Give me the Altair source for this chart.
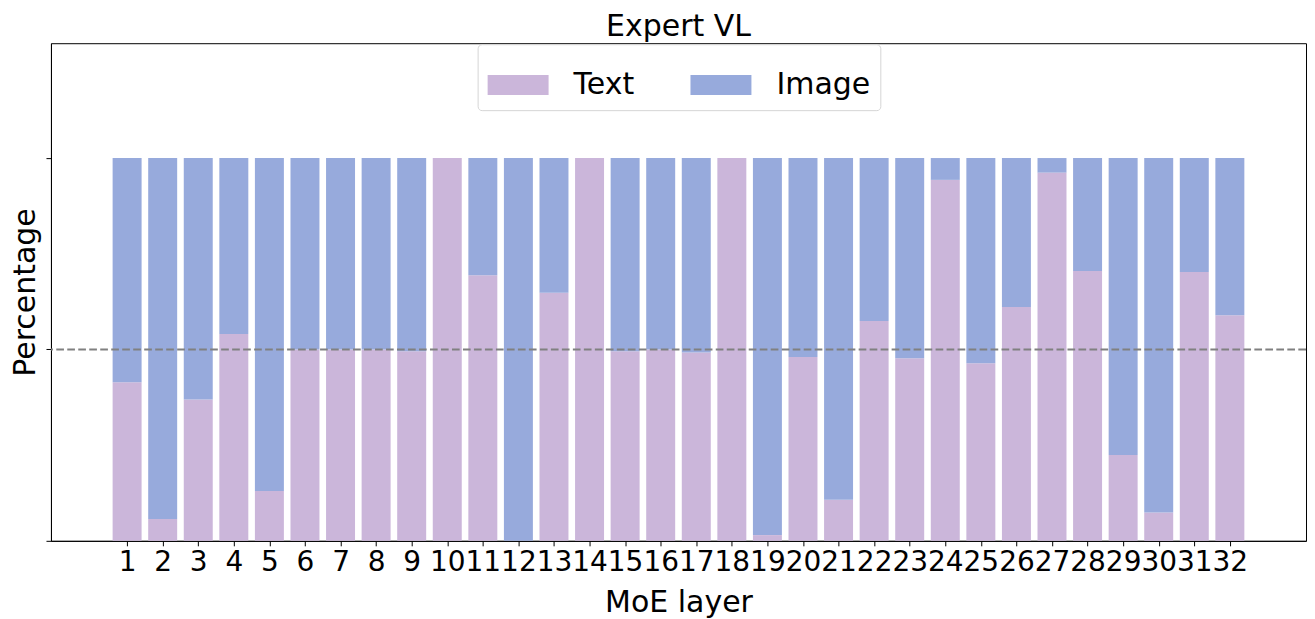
import altair as alt
import pandas as pd

layers = list(range(1, 33))
text_share = [0.414, 0.057, 0.369, 0.540, 0.130, 0.500, 0.500, 0.500, 0.495, 1.000,
              0.694, 0.000, 0.648, 1.000, 0.495, 0.500, 0.492, 1.000, 0.015, 0.480,
              0.107, 0.574, 0.477, 0.943, 0.464, 0.611, 0.962, 0.705, 0.224, 0.074,
              0.702, 0.589]
image_share = [0.586, 0.943, 0.631, 0.460, 0.870, 0.500, 0.500, 0.500, 0.505, 0.000,
               0.306, 1.000, 0.352, 0.000, 0.505, 0.500, 0.508, 0.000, 0.985, 0.520,
               0.893, 0.426, 0.523, 0.057, 0.536, 0.389, 0.038, 0.295, 0.776, 0.926,
               0.298, 0.411]
modalities = ["Text", "Image"]
colors = ["#cbb6da", "#97aadc"]
y_ticks = [0, 0.5, 1.0]
ref_level = [0.5]

rows = []
for i, layer in enumerate(layers):
    rows.append({"layer": layer, "modality": "Text", "share": text_share[i], "ord": 0})
    rows.append({"layer": layer, "modality": "Image", "share": image_share[i], "ord": 1})
df = pd.DataFrame(rows)

FONT = "DejaVu Sans"

bars = alt.Chart(df).mark_bar(size=29).encode(
    x=alt.X("layer:Q",
            scale=alt.Scale(domain=[-1, 34], nice=False, zero=False),
            axis=alt.Axis(values=layers, format="d", title="MoE layer", grid=False,
                          labelPadding=3, titlePadding=11, tickSize=5, labelFlush=False,
                          labelOverlap=False)),
    y=alt.Y("share:Q", stack="zero",
            scale=alt.Scale(domain=[0, 1.3], nice=False),
            axis=alt.Axis(values=y_ticks, labels=False, title="Percentage", grid=False,
                          tickSize=5, titlePadding=5)),
    color=alt.Color("modality:N",
                    scale=alt.Scale(domain=modalities, range=colors),
                    legend=alt.Legend(title=None, orient="none", legendX=427, legendY=1,
                                      direction="horizontal",
                                      symbolType="M-1,-0.328L1,-0.328L1,0.328L-1,0.328Z",
                                      symbolSize=3721, symbolStrokeWidth=0, symbolOpacity=1,
                                      labelFontSize=30, labelFont=FONT, labelColor="black",
                                      labelOffset=25, columnPadding=56, padding=10,
                                      strokeColor="#d5d5d5", cornerRadius=4,
                                      fillColor="white")),
    order=alt.Order("ord:Q", sort="ascending"),
)

rule = alt.Chart(pd.DataFrame({"ref": ref_level})).mark_rule(
    color="#808080", strokeDash=[7.7, 3.3], strokeWidth=2
).encode(y=alt.Y("ref:Q", title="Percentage"))

chart = alt.layer(bars, rule).properties(
    width=1256, height=498,
    title=alt.Title("Expert VL", fontSize=30, fontWeight="normal", font=FONT,
                    color="black", offset=1, anchor="middle"),
    padding={"left": 2, "top": 4, "right": 0, "bottom": 0},
).configure_axis(
    labelFont=FONT, titleFont=FONT, labelFontSize=28, titleFontSize=30,
    titleFontWeight="normal", labelColor="black", titleColor="black",
    domainColor="black", tickColor="black", domainWidth=1, tickWidth=1,
).configure_view(stroke="black", strokeWidth=1)

chart.save("out.html", embed_options={"renderer": "svg", "actions": False})
